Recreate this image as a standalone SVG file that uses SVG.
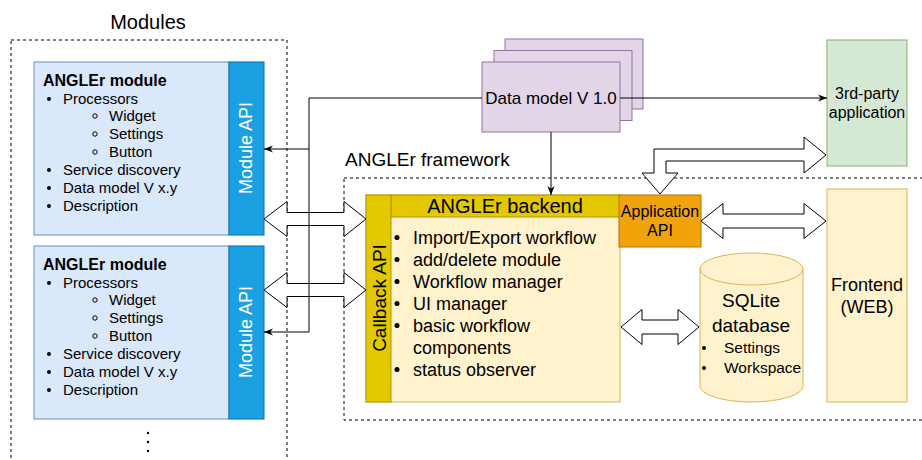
<svg xmlns="http://www.w3.org/2000/svg" width="922" height="460" viewBox="0 0 922 460">
<defs>
<marker id="arr" viewBox="0 0 10 8" refX="10" refY="4" markerWidth="9" markerHeight="7.5" orient="auto" markerUnits="userSpaceOnUse">
<path d="M0,0 L10,4 L0,8 L3,4 Z" fill="#000"/>
</marker>
</defs>
<style>
text{font-family:"Liberation Sans",Arial,Helvetica,sans-serif;fill:#000}
.dash{fill:none;stroke:#000;stroke-width:1;stroke-dasharray:3 3}
.mod{fill:#dae8fc;stroke:#6c8ebf}
.api{fill:#1ba1e2;stroke:#006eaf}
.mt{font-size:15px}
.mb{font-size:16px;font-weight:bold}
.vt{font-size:18px;fill:#fff}
.bt{font-size:18px}
.dot{fill:#000}
.circ{fill:none;stroke:#000;stroke-width:1}
.fat{fill:#fff;stroke:#000;stroke-width:1;stroke-linejoin:miter}
.ln{fill:none;stroke:#000;stroke-width:1}
.c{text-anchor:middle}
</style>

<rect class="dash" x="11" y="40" width="276" height="440"/>
<text x="148" y="29" font-size="20" class="c">Modules</text>
<rect class="dash" x="344" y="178" width="600" height="242"/>
<text x="345" y="166" font-size="19">ANGLEr framework</text>

<g id="module1">
<rect class="mod" x="34" y="62" width="195" height="173"/>
<rect class="api" x="229" y="62" width="35" height="173"/>
<text class="vt c" transform="translate(246,148) rotate(-90)" dominant-baseline="central">Module API</text>
<text class="mb" x="43" y="86">ANGLEr module</text>
<circle class="dot" cx="49" cy="99" r="2"/><text class="mt" x="63" y="104">Processors</text>
<circle class="circ" cx="95" cy="116" r="2.2"/><text class="mt" x="109" y="121">Widget</text>
<circle class="circ" cx="95" cy="134" r="2.2"/><text class="mt" x="109" y="139">Settings</text>
<circle class="circ" cx="95" cy="152" r="2.2"/><text class="mt" x="109" y="157">Button</text>
<circle class="dot" cx="49" cy="170" r="2"/><text class="mt" x="63" y="175">Service discovery</text>
<circle class="dot" cx="49" cy="188" r="2"/><text class="mt" x="63" y="193">Data model V x.y</text>
<circle class="dot" cx="49" cy="206" r="2"/><text class="mt" x="63" y="211">Description</text>
</g>

<g id="module2">
<rect class="mod" x="34" y="246" width="195" height="173"/>
<rect class="api" x="229" y="246" width="35" height="173"/>
<text class="vt c" transform="translate(246,332) rotate(-90)" dominant-baseline="central">Module API</text>
<text class="mb" x="43" y="270">ANGLEr module</text>
<circle class="dot" cx="49" cy="283" r="2"/><text class="mt" x="63" y="288">Processors</text>
<circle class="circ" cx="95" cy="300" r="2.2"/><text class="mt" x="109" y="305">Widget</text>
<circle class="circ" cx="95" cy="318" r="2.2"/><text class="mt" x="109" y="323">Settings</text>
<circle class="circ" cx="95" cy="336" r="2.2"/><text class="mt" x="109" y="341">Button</text>
<circle class="dot" cx="49" cy="354" r="2"/><text class="mt" x="63" y="359">Service discovery</text>
<circle class="dot" cx="49" cy="372" r="2"/><text class="mt" x="63" y="377">Data model V x.y</text>
<circle class="dot" cx="49" cy="390" r="2"/><text class="mt" x="63" y="395">Description</text>
</g>

<g id="more">
<circle class="dot" cx="148" cy="433" r="1.2"/>
<circle class="dot" cx="148" cy="442" r="1.2"/>
<circle class="dot" cx="148" cy="451" r="1.2"/>
</g>

<g id="datamodel">
<rect x="505" y="39" width="138" height="70" fill="#e1d5e7" stroke="#9673a6"/>
<rect x="494" y="50.5" width="138" height="70" fill="#e1d5e7" stroke="#9673a6"/>
<rect x="482" y="62" width="138" height="70" fill="#e1d5e7" stroke="#9673a6"/>
<text x="551" y="104" font-size="17" class="c">Data model V 1.0</text>
</g>

<g id="thirdparty">
<rect x="827" y="40" width="80" height="126" fill="#d5e8d4" stroke="#82b366"/>
<text x="867" y="99" font-size="16" class="c">3rd-party</text>
<text x="867" y="118" font-size="16" class="c">application</text>
</g>

<g id="backend">
<rect x="366" y="195" width="254" height="207" fill="#fff2cc" stroke="#d6b656"/>
<rect x="391" y="195" width="229" height="22" fill="#e3c800" stroke="#b09500"/>
<rect x="366" y="195" width="25" height="207" fill="#e3c800" stroke="#b09500"/>
<text x="505" y="213" font-size="20" class="c">ANGLEr backend</text>
<text class="c" font-size="19" transform="translate(379,298) rotate(-90)" dominant-baseline="central">Callback API</text>
<circle class="dot" cx="397" cy="237.5" r="2.5"/><text class="bt" x="413" y="243.5">Import/Export workflow</text>
<circle class="dot" cx="397" cy="259.5" r="2.5"/><text class="bt" x="413" y="265.5">add/delete module</text>
<circle class="dot" cx="397" cy="281.5" r="2.5"/><text class="bt" x="413" y="287.5">Workflow manager</text>
<circle class="dot" cx="397" cy="303.5" r="2.5"/><text class="bt" x="413" y="309.5">UI manager</text>
<circle class="dot" cx="397" cy="325.5" r="2.5"/><text class="bt" x="413" y="331.5">basic workflow</text>
<text class="bt" x="413" y="353.5">components</text>
<circle class="dot" cx="397" cy="369.5" r="2.5"/><text class="bt" x="413" y="375.5">status observer</text>
</g>

<g id="appapi">
<rect x="619" y="195" width="82" height="52" fill="#f0a30a" stroke="#bd7000"/>
<text x="660" y="217" font-size="16" class="c">Application</text>
<text x="660" y="236" font-size="16" class="c">API</text>
</g>

<g id="sqlite">
<path d="M700,269 A51.5,16 0 0 1 803,269 V386 A51.5,16 0 0 1 700,386 Z" fill="#fff2cc" stroke="#d6b656"/>
<path d="M700,269 A51.5,16 0 0 0 803,269" fill="none" stroke="#d6b656"/>
<text x="751" y="307" font-size="19" class="c">SQLite</text>
<text x="751" y="332" font-size="19" class="c">database</text>
<circle class="dot" cx="704" cy="348" r="2"/><text x="724" y="353" font-size="15.5">Settings</text>
<circle class="dot" cx="704" cy="368" r="2"/><text x="724" y="373" font-size="15.5">Workspace</text>
</g>

<g id="frontend">
<rect x="827" y="189" width="80" height="213" fill="#fff2cc" stroke="#d6b656"/>
<text x="867" y="291" font-size="18" class="c">Frontend</text>
<text x="867" y="313" font-size="18" class="c">(WEB)</text>
</g>

<g id="connectors">
<polygon class="fat" points="264,219 287,201.5 287,212.5 344,212.5 344,201.5 366,219 344,236.5 344,225.5 287,225.5 287,236.5"/>
<polygon class="fat" points="264,290 287,272.5 287,283.5 344,283.5 344,272.5 366,290 344,307.5 344,296.5 287,296.5 287,307.5"/>
<polygon class="fat" points="621,327 642,309.5 642,320 678,320 678,309.5 699,327 678,344.5 678,334 642,334 642,344.5"/>
<polygon class="fat" points="701,221 723,203.5 723,214 804,214 804,203.5 826,221 804,238.5 804,228 723,228 723,238.5"/>
<polygon class="fat" points="660,194 678,173 666,173 666,161 804,161 804,173 826,155 804,137 804,149 654,149 654,173 642,173"/>
<path class="ln" d="M482,98 H309 V332 H264" marker-end="url(#arr)"/>
<path class="ln" d="M309,149 H264" marker-end="url(#arr)"/>
<path class="ln" d="M551,132 V195" marker-end="url(#arr)"/>
<path class="ln" d="M620,98 H827" marker-end="url(#arr)"/>
</g>
</svg>
